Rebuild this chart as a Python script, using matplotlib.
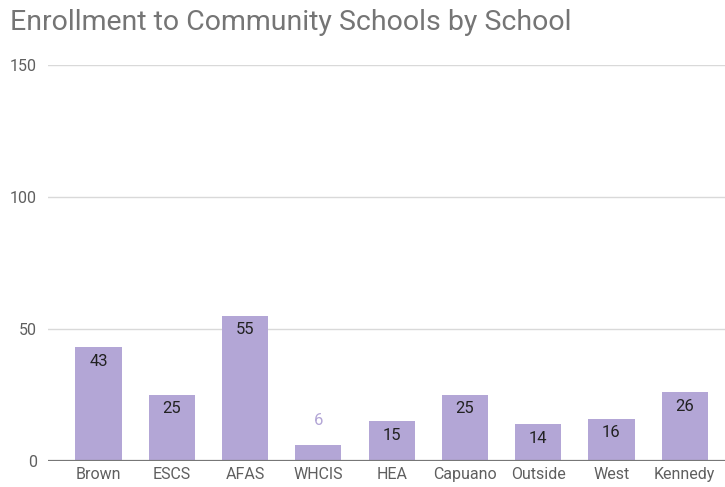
import matplotlib
matplotlib.use("Agg")
import matplotlib.pyplot as plt

schools = ["Brown", "ESCS", "AFAS", "WHCIS", "HEA", "Capuano", "Outside", "West", "Kennedy"]
enrollment = [43, 25, 55, 6, 15, 25, 14, 16, 26]
yticks = [0, 50, 100, 150]

BAR = "#b3a6d6"
GRID = "#d9d9d9"
TXT = "#5f5f5f"

plt.rcParams["font.family"] = ["Roboto", "DejaVu Sans"]

fig = plt.figure(figsize=(7.25, 4.87), dpi=100)
ax = fig.add_axes([0.0662, 0.0534, 0.9338, 0.8131])

x = list(range(len(schools)))
bars = ax.bar(x, enrollment, width=0.63, color=BAR, zorder=2)

ax.set_xlim(-0.69, 8.55)
ax.set_ylim(0, 150)
ax.set_yticks(yticks)
ax.set_xticks(x)
ax.set_xticklabels(schools)
ax.grid(axis="y", color=GRID, lw=1, zorder=0)
ax.axhline(0, color="#777777", lw=1.6, zorder=3)
for s in ax.spines.values():
    s.set_visible(False)
ax.tick_params(length=0, labelsize=11.5, colors=TXT)
ax.tick_params(axis="y", pad=8)
ax.tick_params(axis="x", pad=4)

for xi, v in zip(x, enrollment):
    if v >= 10:
        ax.annotate(str(v), (xi, v), xytext=(0, -14), textcoords="offset pixels",
                    ha="center", va="center", fontsize=12, color="#222222", zorder=4)
    else:
        ax.annotate(str(v), (xi, v), xytext=(0, 25), textcoords="offset pixels",
                    ha="center", va="center", fontsize=12, color=BAR, zorder=4)

fig.text(10 / 725, 1 - 23 / 487, "Enrollment to Community Schools by School",
         ha="left", va="center", fontsize=20.5, color="#757575")

fig.savefig("out.png", dpi=100)
